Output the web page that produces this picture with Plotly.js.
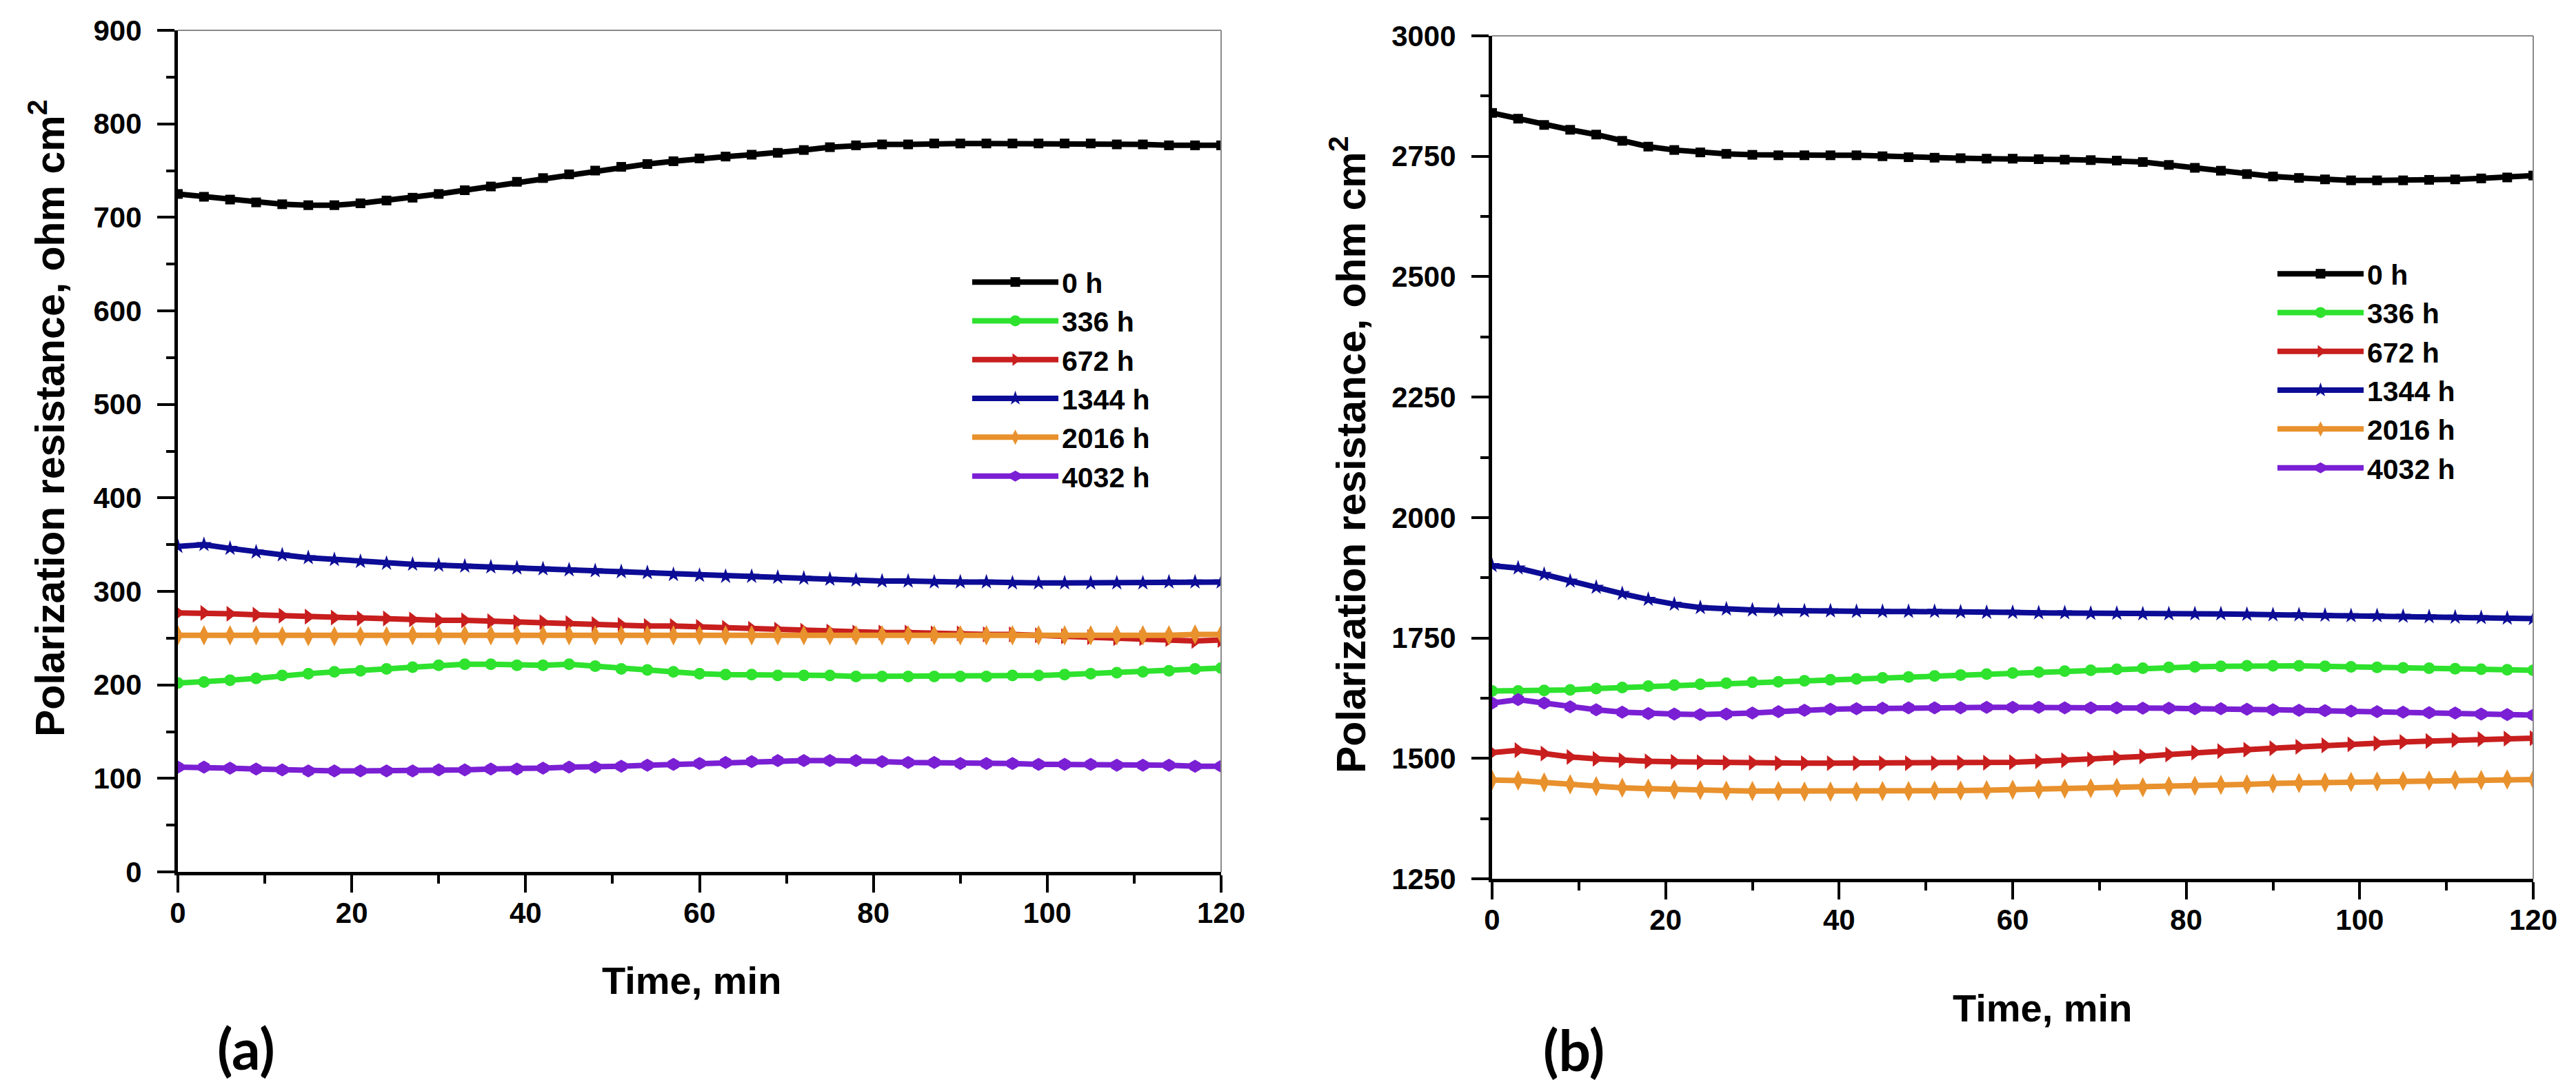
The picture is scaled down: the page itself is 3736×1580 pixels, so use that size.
<!DOCTYPE html>
<html>
<head>
<meta charset="utf-8">
<script src="https://cdn.plot.ly/plotly-3.0.1.min.js"></script>
<style>
  body { margin: 0; background: #fff; }
  #chart { width: 3736px; height: 1580px; }
</style>
</head>
<body>
<div id="chart"></div>
<script>
// sampling time, min
var time = [0, 3, 6, 9, 12, 15, 18, 21, 24, 27, 30, 33, 36, 39, 42, 45, 48, 51, 54, 57, 60,
            63, 66, 69, 72, 75, 78, 81, 84, 87, 90, 93, 96, 99, 102, 105, 108, 111, 114, 117, 120];

var seriesNames = ['0 h', '336 h', '672 h', '1344 h', '2016 h', '4032 h'];

// panel (a)
var a0h    = [725, 722, 719, 716, 714, 713, 713, 715, 718, 721, 725, 729, 733, 738, 742, 746, 750, 754, 757, 760, 763,
              765, 767, 769, 772, 775, 777, 778, 778, 779, 779, 779, 779, 779, 779, 779, 778, 778, 777, 777, 777];
var a336h  = [202, 203, 205, 207, 210, 212, 214, 215, 217, 219, 221, 222, 222, 221, 221, 222, 220, 217, 216, 214, 212,
              211, 211, 210, 210, 210, 209, 209, 209, 209, 209, 209, 210, 210, 211, 212, 213, 214, 215, 217, 218];
var a672h  = [277, 277, 276, 275, 274, 273, 272, 271, 271, 270, 269, 269, 268, 267, 267, 266, 265, 264, 263, 263, 262,
              261, 260, 259, 258, 257, 256, 256, 256, 255, 255, 254, 254, 253, 252, 251, 250, 250, 249, 247, 248];
var a1344h = [348, 350, 346, 342, 339, 336, 334, 332, 330, 329, 328, 327, 326, 325, 324, 323, 322, 321, 320, 318, 317,
              316, 316, 315, 314, 313, 312, 311, 311, 310, 310, 310, 309, 309, 309, 309, 309, 309, 310, 310, 310];
var a2016h = [253, 253, 253, 253, 252, 252, 252, 252, 252, 253, 253, 253, 253, 253, 253, 253, 253, 253, 253, 253, 253,
              253, 253, 253, 253, 253, 253, 253, 253, 253, 253, 253, 253, 253, 253, 253, 253, 253, 253, 254, 254];
var a4032h = [112, 112, 111, 110, 109, 108, 108, 108, 108, 108, 109, 109, 110, 110, 111, 112, 112, 113, 114, 115, 116,
              117, 118, 119, 119, 119, 119, 118, 117, 117, 116, 116, 116, 115, 115, 115, 114, 114, 114, 113, 113];

// panel (b)
var b0h    = [2840, 2828, 2815, 2805, 2795, 2782, 2770, 2763, 2758, 2755, 2753, 2752, 2752, 2752, 2752, 2750, 2748, 2747, 2746, 2745, 2745,
              2744, 2743, 2742, 2741, 2738, 2732, 2726, 2720, 2713, 2708, 2705, 2702, 2700, 2700, 2700, 2701, 2702, 2704, 2706, 2710];
var b336h  = [1640, 1640, 1641, 1642, 1645, 1647, 1650, 1652, 1654, 1656, 1658, 1659, 1661, 1663, 1665, 1667, 1669, 1671, 1673, 1675, 1677,
              1679, 1681, 1683, 1685, 1687, 1689, 1690, 1691, 1692, 1692, 1692, 1691, 1690, 1689, 1688, 1687, 1686, 1685, 1684, 1683];
var b672h  = [1512, 1517, 1510, 1503, 1499, 1496, 1494, 1493, 1492, 1491, 1491, 1490, 1490, 1490, 1490, 1490, 1490, 1490, 1491, 1491, 1492,
              1494, 1496, 1498, 1501, 1504, 1508, 1512, 1515, 1518, 1521, 1524, 1527, 1529, 1531, 1534, 1536, 1538, 1540, 1541, 1542];
var b1344h = [1900, 1895, 1882, 1868, 1855, 1842, 1830, 1820, 1813, 1810, 1808, 1807, 1806, 1806, 1805, 1805, 1805, 1805, 1804, 1803, 1803,
              1802, 1802, 1801, 1801, 1800, 1800, 1800, 1800, 1799, 1798, 1798, 1797, 1796, 1796, 1795, 1794, 1793, 1792, 1791, 1790];
var b2016h = [1455, 1454, 1450, 1446, 1442, 1439, 1437, 1435, 1434, 1433, 1432, 1432, 1431, 1431, 1431, 1432, 1432, 1433, 1433, 1434, 1435,
              1436, 1437, 1438, 1439, 1440, 1442, 1443, 1445, 1446, 1448, 1449, 1450, 1451, 1452, 1453, 1454, 1455, 1455, 1456, 1456];
var b4032h = [1615, 1622, 1615, 1607, 1601, 1596, 1593, 1592, 1591, 1592, 1594, 1597, 1600, 1602, 1603, 1604, 1605, 1605, 1605, 1606, 1606,
              1606, 1605, 1605, 1605, 1604, 1604, 1603, 1603, 1602, 1601, 1600, 1599, 1598, 1597, 1596, 1595, 1594, 1592, 1591, 1590];

var colors  = ['#000000', '#2ee22e', '#c81e1e', '#0c0c96', '#e8912d', '#7a1fd4'];
var symbols = ['square', 'circle', 'triangle-right', 'star', 'diamond-tall', 'hexagon'];
var sizes   = [14, 17, 20, 17, 21, 19];

var FONT = 'Liberation Sans, Arial, sans-serif';
var W = 3736, H = 1580;

function makeTrace(y, i, xa, ya, leg) {
    return {
        x: time,
        y: y,
        xaxis: xa,
        yaxis: ya,
        legend: leg,
        name: seriesNames[i],
        type: 'scatter',
        mode: 'lines+markers',
        line: { color: colors[i], width: 8 },
        marker: { color: colors[i], symbol: symbols[i], size: sizes[i], line: { width: 0 } }
    };
}

var data = [];
[a0h, a336h, a672h, a1344h, a2016h, a4032h].forEach(function (s, i) {
    data.push(makeTrace(s, i, 'x', 'y', 'legend'));
});
[b0h, b336h, b672h, b1344h, b2016h, b4032h].forEach(function (s, i) {
    data.push(makeTrace(s, i, 'x2', 'y2', 'legend2'));
});

var tickFont = { family: FONT, size: 42, color: '#000', weight: 'bold' };

function mainAxis(domain, range, dtick, minorDtick, anchor, standoff) {
    return {
        domain: domain,
        range: range,
        anchor: anchor,
        dtick: dtick,
        tick0: range[0],
        ticks: 'outside',
        ticklen: 25,
        tickwidth: 4,
        tickcolor: '#000',
        minor: { dtick: minorDtick, ticks: 'outside', ticklen: 12, tickwidth: 4, tickcolor: '#000', showgrid: false },
        showline: true,
        linecolor: '#000',
        linewidth: 5,
        showgrid: false,
        zeroline: false,
        tickfont: tickFont,
        ticklabelstandoff: standoff,
        fixedrange: true
    };
}

// companion axes that only draw the inner half of the major ticks
function innerTicks(over, anchor, range, dtick) {
    return {
        overlaying: over,
        anchor: anchor,
        range: range,
        dtick: dtick,
        tick0: range[0],
        ticks: 'inside',
        ticklen: 25,
        tickwidth: 4,
        tickcolor: '#000',
        showticklabels: false,
        showline: false,
        showgrid: false,
        zeroline: false,
        fixedrange: true
    };
}

var xdomA = [258 / W, 1771 / W];
var ydomA = [(H - 1265) / H, (H - 44) / H];
var xdomB = [2164 / W, 3674 / W];
var ydomB = [(H - 1275) / H, (H - 52) / H];

var legendBase = {
    xanchor: 'left',
    yanchor: 'top',
    bgcolor: 'rgba(0,0,0,0)',
    borderwidth: 0,
    font: { family: FONT, size: 41, color: '#000', weight: 'bold' },
    itemwidth: 125,
    tracegroupgap: 0,
    itemclick: false,
    itemdoubleclick: false
};

function border(xa, ya) {
    var style = { color: '#8a8a8a', width: 2 };
    return [
        { type: 'line', xref: xa + ' domain', yref: ya + ' domain', x0: 0, x1: 1, y0: 1, y1: 1, line: style },
        { type: 'line', xref: xa + ' domain', yref: ya + ' domain', x0: 1, x1: 1, y0: 0, y1: 1, line: style }
    ];
}

var yTitleFont = { family: FONT, size: 59, color: '#000', weight: 'bold' };
var xTitleFont = { family: FONT, size: 56, color: '#000', weight: 'bold' };
var panelFont = { family: 'Lato, Open Sans, sans-serif', size: 82, color: '#000', weight: 'bold' };

var layout = {
    width: W,
    height: H,
    autosize: false,
    margin: { l: 0, r: 0, t: 0, b: 0, pad: 0 },
    paper_bgcolor: '#fff',
    plot_bgcolor: '#fff',
    showlegend: true,
    xaxis: mainAxis(xdomA, [0, 120], 20, 10, 'y', -6),
    yaxis: mainAxis(ydomA, [0, 900], 100, 50, 'x', 14),
    xaxis2: mainAxis(xdomB, [0, 120], 20, 10, 'y2', -6),
    yaxis2: mainAxis(ydomB, [1250, 3000], 250, 125, 'x2', 14),
    xaxis3: innerTicks('x', 'y', [0, 120], 20),
    yaxis3: innerTicks('y', 'x', [0, 900], 100),
    xaxis4: innerTicks('x2', 'y2', [0, 120], 20),
    yaxis4: innerTicks('y2', 'x2', [1250, 3000], 250),
    legend: Object.assign({}, legendBase, { x: 1405 / W, y: 1 - 376 / H }),
    legend2: Object.assign({}, legendBase, { x: 3298 / W, y: 1 - 364 / H }),
    shapes: border('x', 'y').concat(border('x2', 'y2')),
    annotations: [
        { text: 'Polarization resistance, ohm cm<sup>2</sup>', textangle: -90, xref: 'paper', yref: 'paper',
          x: 68 / W, y: 1 - 607 / H, xanchor: 'center', yanchor: 'middle', showarrow: false, font: yTitleFont },
        { text: 'Polarization resistance, ohm cm<sup>2</sup>', textangle: -90, xref: 'paper', yref: 'paper',
          x: 1955 / W, y: 1 - 660 / H, xanchor: 'center', yanchor: 'middle', showarrow: false, font: yTitleFont },
        { text: 'Time, min', xref: 'paper', yref: 'paper', x: 1003 / W, y: 1 - 1422 / H,
          xanchor: 'center', yanchor: 'middle', showarrow: false, font: xTitleFont },
        { text: 'Time, min', xref: 'paper', yref: 'paper', x: 2962 / W, y: 1 - 1462 / H,
          xanchor: 'center', yanchor: 'middle', showarrow: false, font: xTitleFont },
        { text: '(a)', xref: 'paper', yref: 'paper', x: 357 / W, y: 1 - 1520 / H,
          xanchor: 'center', yanchor: 'middle', showarrow: false, font: panelFont },
        { text: '(b)', xref: 'paper', yref: 'paper', x: 2282 / W, y: 1 - 1522 / H,
          xanchor: 'center', yanchor: 'middle', showarrow: false, font: panelFont }
    ]
};

Plotly.newPlot('chart', data, layout, { staticPlot: true, displayModeBar: false });
</script>
</body>
</html>
